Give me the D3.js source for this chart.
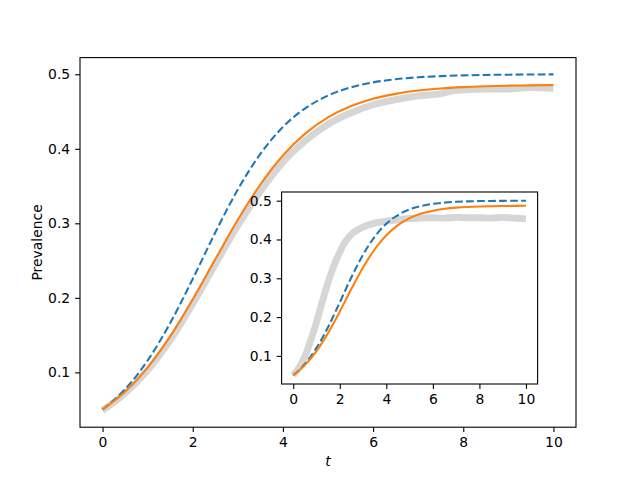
<!DOCTYPE html>
<html lang="en">
<head>
<meta charset="UTF-8">
<title>Prevalence</title>
<script src="https://d3js.org/d3.v7.min.js"></script>
<style>
    body { margin: 0; background: #fff; }
    text { font-family: "DejaVu Sans", sans-serif; font-size: 13.9px; fill: #000; }
</style>
</head>
<body>
<svg width="640" height="480"></svg>
<script>
    // model time grid
    const tModel = [0, 0.5, 1, 1.5, 2, 2.5, 3, 3.5, 4, 4.5, 5, 5.5, 6, 6.5, 7, 7.5, 8, 8.5, 9, 9.5, 10];

    // main panel
    const mainMeanField = [0.05, 0.0774, 0.116, 0.1662, 0.2254, 0.2876, 0.3453, 0.3931, 0.4292, 0.4545, 0.4714,
        0.4823, 0.4891, 0.4933, 0.4959, 0.4975, 0.4985, 0.4991, 0.4994, 0.4997, 0.4998];
    const mainPair = [0.05, 0.0739, 0.1065, 0.1483, 0.1979, 0.2517, 0.3047, 0.3521, 0.391, 0.4207, 0.4421,
        0.457, 0.4671, 0.4737, 0.4781, 0.4809, 0.4827, 0.4839, 0.4847, 0.4851, 0.4855];
    const mainSimT = [0, 0.5, 1, 1.5, 2, 2.5, 3, 3.5, 4, 4.5, 5, 5.5, 6, 6.5, 7, 7.5, 7.8, 8, 8.5, 9, 9.5, 10];
    const mainSim = [0.049, 0.072, 0.103, 0.143, 0.192, 0.245, 0.297, 0.343, 0.382, 0.411, 0.433, 0.448,
        0.459, 0.466, 0.471, 0.474, 0.478, 0.479, 0.480, 0.480, 0.482, 0.481];

    // inset panel
    const insetMeanField = [0.05, 0.0791, 0.1205, 0.1746, 0.2379, 0.3027, 0.3608, 0.4071, 0.4405, 0.463, 0.4775,
        0.4864, 0.4919, 0.4951, 0.4971, 0.4983, 0.499, 0.4994, 0.4996, 0.4998, 0.4999];
    const insetPair = [0.05, 0.0761, 0.1124, 0.1593, 0.2144, 0.2728, 0.328, 0.3748, 0.411, 0.4371, 0.4549,
        0.4667, 0.4743, 0.479, 0.4821, 0.4839, 0.4851, 0.4858, 0.4863, 0.4866, 0.4868];
    const insetSimT = [0, 0.25, 0.5, 0.75, 1, 1.25, 1.5, 1.75, 2, 2.25, 2.5, 3, 3.5, 4, 4.5, 5, 5.5, 6, 6.5,
        7, 7.5, 8, 8.5, 9, 9.5, 10];
    const insetSim = [0.05, 0.07, 0.098, 0.14, 0.187, 0.24, 0.29, 0.333, 0.368, 0.395, 0.413, 0.432, 0.442,
        0.447, 0.451, 0.454, 0.455, 0.456, 0.455, 0.457, 0.456, 0.456, 0.455, 0.457, 0.455, 0.453];

    const xTicks = [0, 2, 4, 6, 8, 10];
    const yTicks = [0.1, 0.2, 0.3, 0.4, 0.5];

    const svg = d3.select("svg");

    // matplotlib style 5% margins
    function padded(ext) {
        let d = (ext[1] - ext[0]) * 0.05;
        return [ext[0] - d, ext[1] + d];
    }

    function drawPanel(box, sim, pair, mf, showLabels) {
        let g = svg.append("g");
        let allY = sim.y.concat(pair, mf);
        let x = d3.scaleLinear().domain(padded([0, 10])).range([box.left, box.right]);
        let y = d3.scaleLinear().domain(padded(d3.extent(allY))).range([box.bottom, box.top]);

        g.append("rect")
            .attr("x", box.left).attr("y", box.top)
            .attr("width", box.right - box.left).attr("height", box.bottom - box.top)
            .attr("fill", "white");

        let line = d3.line()
            .x(d => x(d[0]))
            .y(d => y(d[1]))
            .curve(d3.curveMonotoneX);

        g.append("path")
            .attr("d", line(d3.zip(sim.t, sim.y)))
            .attr("fill", "none")
            .attr("stroke", "#d6d6d6")
            .attr("stroke-width", 6.9)
            .attr("stroke-linecap", "butt")
            .attr("stroke-linejoin", "round");

        g.append("path")
            .attr("d", line(d3.zip(tModel, mf)))
            .attr("fill", "none")
            .attr("stroke", "#1f77b4")
            .attr("stroke-width", 2.08)
            .attr("stroke-dasharray", "7.7,3.3");

        g.append("path")
            .attr("d", line(d3.zip(tModel, pair)))
            .attr("fill", "none")
            .attr("stroke", "#ff7f0e")
            .attr("stroke-width", 2.08);

        // axes
        let xAxis = d3.axisBottom(x).tickValues(xTicks).tickFormat(d3.format("d"))
            .tickSizeInner(4.9).tickSizeOuter(0).tickPadding(4.9);
        let yAxis = d3.axisLeft(y).tickValues(yTicks).tickFormat(d3.format(".1f"))
            .tickSizeInner(4.9).tickSizeOuter(0).tickPadding(4.9);

        let gx = g.append("g").attr("transform", `translate(0,${box.bottom})`).call(xAxis);
        let gy = g.append("g").attr("transform", `translate(${box.left},0)`).call(yAxis);
        [gx, gy].forEach(a => {
            a.select(".domain").remove();
            a.selectAll("line").attr("stroke", "#000").attr("stroke-width", 1.1);
            a.selectAll("text").attr("font-family", "DejaVu Sans").attr("font-size", 13.9).attr("fill", "#000");
        });
        gx.selectAll("text").attr("dy", "0.72em");

        g.append("rect")
            .attr("x", box.left).attr("y", box.top)
            .attr("width", box.right - box.left).attr("height", box.bottom - box.top)
            .attr("fill", "none")
            .attr("stroke", "#000")
            .attr("stroke-width", 1.1);

        if (showLabels) {
            g.append("text")
                .attr("x", (box.left + box.right) / 2)
                .attr("y", 466)
                .attr("text-anchor", "middle")
                .attr("font-style", "italic")
                .text("t");
            g.append("text")
                .attr("transform", `translate(41.5,${(box.top + box.bottom) / 2}) rotate(-90)`)
                .attr("text-anchor", "middle")
                .text("Prevalence");
        }
    }

    drawPanel({left: 80, right: 576, top: 57.6, bottom: 427.2},
        {t: mainSimT, y: mainSim}, mainPair, mainMeanField, true);
    drawPanel({left: 281.6, right: 537.6, top: 192, bottom: 384},
        {t: insetSimT, y: insetSim}, insetPair, insetMeanField, false);
</script>
</body>
</html>
